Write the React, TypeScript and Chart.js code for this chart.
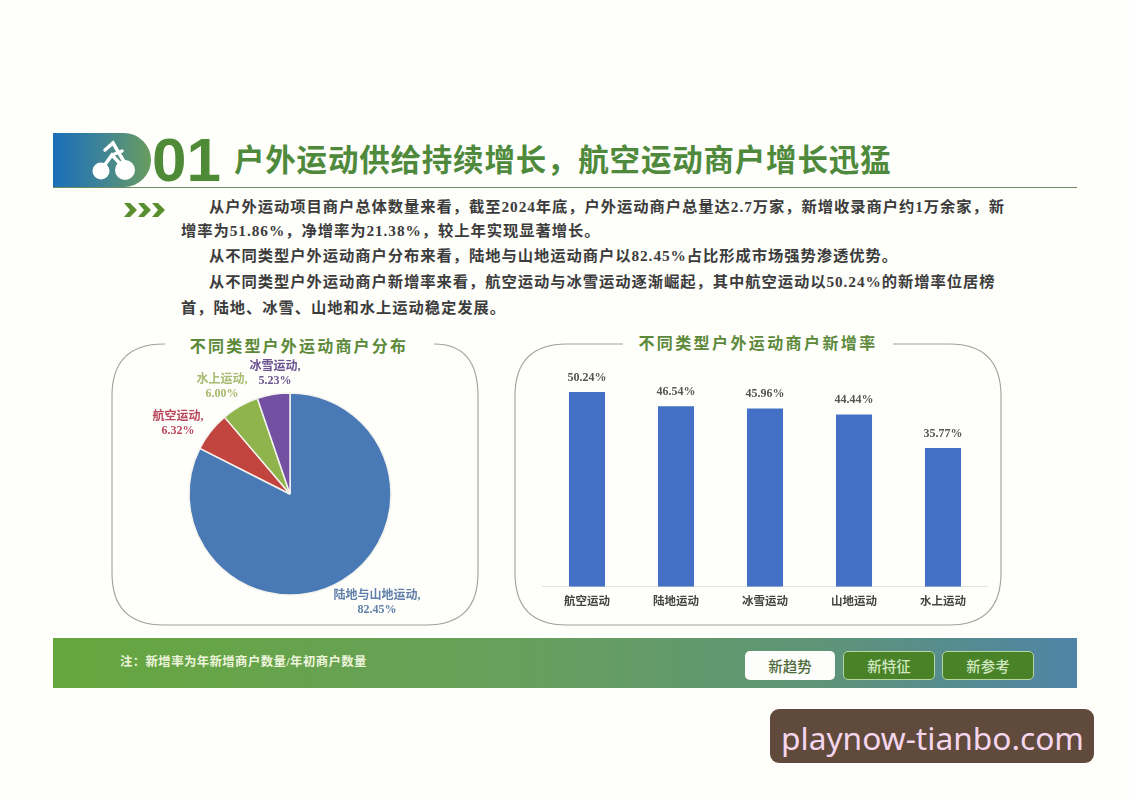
import React, { useEffect, useRef } from "react";
import { Chart, registerables } from "chart.js";

Chart.register(...registerables);

const SERIF = '"Liberation Serif","Noto Sans CJK SC",serif';
const SANS = '"Noto Sans CJK SC",sans-serif';

const pieLabels = ["陆地与山地运动", "航空运动", "水上运动", "冰雪运动"];
const pieValues = [82.45, 6.32, 6.0, 5.23];
const pieColors = ["#4a7ab6", "#c2443e", "#8fb44c", "#7350a2"];
const pieTextColors = ["#5f7fa8", "#b9475c", "#a8ba70", "#6b5290"];
const pieLabelOffsets = [
  [87, 102],
  [-112, -77],
  [-68, -114],
  [-15, -127],
];

const barLabels = ["航空运动", "陆地运动", "冰雪运动", "山地运动", "水上运动"];
const barValues = [50.24, 46.54, 45.96, 44.44, 35.77];

const bodyLines = [
  { x: 209, y: 207, t: "从户外运动项目商户总体数量来看，截至2024年底，户外运动商户总量达2.7万家，新增收录商户约1万余家，新" },
  { x: 181, y: 231, t: "增率为51.86%，净增率为21.38%，较上年实现显著增长。" },
  { x: 209, y: 256, t: "从不同类型户外运动商户分布来看，陆地与山地运动商户以82.45%占比形成市场强势渗透优势。" },
  { x: 209, y: 282, t: "从不同类型户外运动商户新增率来看，航空运动与冰雪运动逐渐崛起，其中航空运动以50.24%的新增率位居榜" },
  { x: 181, y: 308, t: "首，陆地、冰雪、山地和水上运动稳定发展。" },
];

const piePlugin = {
  id: "pieText",
  afterDatasetsDraw(chart: any) {
    const { ctx } = chart;
    const arc = chart.getDatasetMeta(0).data[0];
    ctx.save();
    ctx.textAlign = "center";
    ctx.textBaseline = "middle";
    ctx.font = `bold 12px ${SERIF}`;
    pieLabels.forEach((name, i) => {
      const [dx, dy] = pieLabelOffsets[i];
      ctx.fillStyle = pieTextColors[i];
      ctx.fillText(`${name},`, arc.x + dx, arc.y + dy);
      ctx.fillText(`${pieValues[i].toFixed(2)}%`, arc.x + dx, arc.y + dy + 14);
    });
    ctx.restore();
  },
};

const barPlugin = {
  id: "barText",
  afterDatasetsDraw(chart: any) {
    const { ctx } = chart;
    ctx.save();
    ctx.textAlign = "center";
    ctx.textBaseline = "middle";
    ctx.font = `bold 12px ${SERIF}`;
    ctx.fillStyle = "#555";
    chart.getDatasetMeta(0).data.forEach((bar: any, i: number) => {
      ctx.fillText(`${barValues[i].toFixed(2)}%`, bar.x, bar.y - 14.5);
    });
    ctx.restore();
  },
};

function PieChart() {
  const ref = useRef<HTMLCanvasElement>(null);
  useEffect(() => {
    const chart = new Chart(ref.current!, {
      type: "pie",
      data: {
        labels: pieLabels,
        datasets: [{ data: pieValues, backgroundColor: pieColors, borderColor: "#f4f4ee", borderWidth: 1.5, radius: 101 }],
      },
      options: {
        animation: false,
        responsive: false,
        layout: { padding: 0 },
        plugins: { legend: { display: false }, tooltip: { enabled: false } },
      },
      plugins: [piePlugin],
    } as any);
    return () => chart.destroy();
  }, []);
  return <canvas ref={ref} width={356} height={288} style={{ position: "absolute", left: 112, top: 350, width: 356, height: 288 }} />;
}

function BarChart() {
  const ref = useRef<HTMLCanvasElement>(null);
  useEffect(() => {
    const chart = new Chart(ref.current!, {
      type: "bar",
      data: {
        labels: barLabels,
        datasets: [{ data: barValues, backgroundColor: "#4470c6", barPercentage: 0.405, categoryPercentage: 1 }],
      },
      options: {
        animation: false,
        responsive: false,
        layout: { padding: { left: 22.5, right: 22.5, top: 23.5, bottom: 0 } },
        plugins: { legend: { display: false }, tooltip: { enabled: false } },
        scales: {
          y: { display: false, min: 0, max: 55 },
          x: {
            grid: { display: false, drawTicks: false },
            border: { display: true, color: "#e3e3df", width: 1 },
            ticks: { color: "#444", font: { family: SERIF, size: 11.5, weight: "bold" }, padding: 8, maxRotation: 0 },
            afterFit: (s: any) => { s.height = 33.3; },
          },
        },
      },
      plugins: [barPlugin],
    } as any);
    return () => chart.destroy();
  }, []);
  return <canvas ref={ref} width={490} height={270} style={{ position: "absolute", left: 520, top: 350, width: 490, height: 270 }} />;
}

function Txt({ x, y, size, color, bold, ls, font, children, cx }: any) {
  return (
    <span
      style={{
        position: "absolute",
        left: x,
        top: y,
        transform: cx ? "translate(-50%,-50%)" : "translateY(-50%)",
        fontSize: size,
        color,
        fontWeight: bold ? 700 : 400,
        letterSpacing: ls || 0,
        fontFamily: font || SANS,
        whiteSpace: "nowrap",
        lineHeight: 1,
      }}
    >
      {children}
    </span>
  );
}

function Btn({ x, w, label, active }: any) {
  return (
    <div
      style={{
        position: "absolute", left: x, top: 651, width: w, height: 29, boxSizing: "border-box", borderRadius: 5,
        background: active ? "#fdfdfb" : "#4a8228", border: active ? "none" : "1px solid #b5d8a0",
        color: active ? "#4d6b3a" : "#cfe8c0", fontFamily: SANS, fontSize: 14.5, fontWeight: 500,
        display: "flex", alignItems: "center", justifyContent: "center",
      }}
    >
      {label}
    </div>
  );
}

export default function App() {
  return (
    <div style={{ position: "absolute", left: 0, top: 0, width: 1131, height: 800, overflow: "hidden", background: "#fefefb", filter: "blur(0.35px)" }}>
      <div style={{ position: "absolute", left: 53, top: 133, width: 98, height: 54, borderRadius: "0 27px 27px 0", background: "linear-gradient(90deg,#1a6fb8 0%,#3f8496 50%,#6a9c5e 100%)" }} />
      <div style={{ position: "absolute", left: 53, top: 187, width: 1024, height: 1, background: "#6f8a5c" }} />

      <svg width={1131} height={800} style={{ position: "absolute", left: 0, top: 0 }}>
        <g fill="#fff" stroke="none">
          <circle cx={101} cy={171} r={8.5} />
          <circle cx={125} cy={170} r={10} />
        </g>
        <g fill="none" stroke="#fff" strokeWidth={3.5} strokeLinecap="round">
          <path d="M101 170 L112 155 L125 169" />
          <path d="M105 150 L113 143 L126 165 M112 155 L122 151" />
        </g>
        <g fill="#5a8f2e">
          <polygon points="124,203 130,203 137,210 130,217 124,217 130,210" />
          <polygon points="138,203 144,203 151,210 144,217 138,217 144,210" />
          <polygon points="152,203 158,203 165,210 158,217 152,217 158,210" />
        </g>
        <g fill="none" stroke="#9aa596" strokeWidth={1.1}>
          <path d="M165 344 H164 Q112 344 112 396 V573 Q112 625 164 625 H426 Q478 625 478 573 V396 Q478 344 434 344" />
          <path d="M623 344 H567 Q515 344 515 396 V573 Q515 625 567 625 H949 Q1001 625 1001 573 V396 Q1001 344 949 344 H893" />
        </g>
      </svg>

      <Txt x={152} y={160} size={62} color="#4f8a37" bold font={'"Liberation Sans",sans-serif'}>01</Txt>
      <Txt x={234} y={158} size={30.5} color="#4f8a3c" bold ls={0.8}>户外运动供给持续增长，航空运动商户增长迅猛</Txt>

      {bodyLines.map((l) => (
        <Txt key={l.y} x={l.x} y={l.y} size={15.3} color="#3c3c3c" bold font={SERIF} ls={0.95}>{l.t}</Txt>
      ))}

      <Txt x={299} y={345} size={16} color="#5c8a3a" bold ls={2.2} cx>不同类型户外运动商户分布</Txt>
      <Txt x={758} y={342} size={16} color="#5c8a3a" bold ls={2.4} cx>不同类型户外运动商户新增率</Txt>

      <PieChart />
      <BarChart />

      <div style={{ position: "absolute", left: 53, top: 638, width: 1024, height: 50, background: "linear-gradient(90deg,#66a63e 0%,#67a05c 45%,#5f9478 75%,#4f84a6 100%)" }} />
      <Txt x={120} y={662} size={12.4} color="#eef5dc" bold font={SERIF} ls={0.4}>注：新增率为年新增商户数量/年初商户数量</Txt>
      <Btn x={745} w={90} label="新趋势" active />
      <Btn x={843} w={92} label="新特征" />
      <Btn x={942} w={92} label="新参考" />

      <div style={{ position: "absolute", left: 770, top: 709, width: 324, height: 54, borderRadius: 9, background: "#5f4a3b" }} />
      <Txt x={781} y={738} size={31.7} color="#f6d6ee" font={'"Noto Sans",sans-serif'}>playnow-tianbo.com</Txt>
    </div>
  );
}
